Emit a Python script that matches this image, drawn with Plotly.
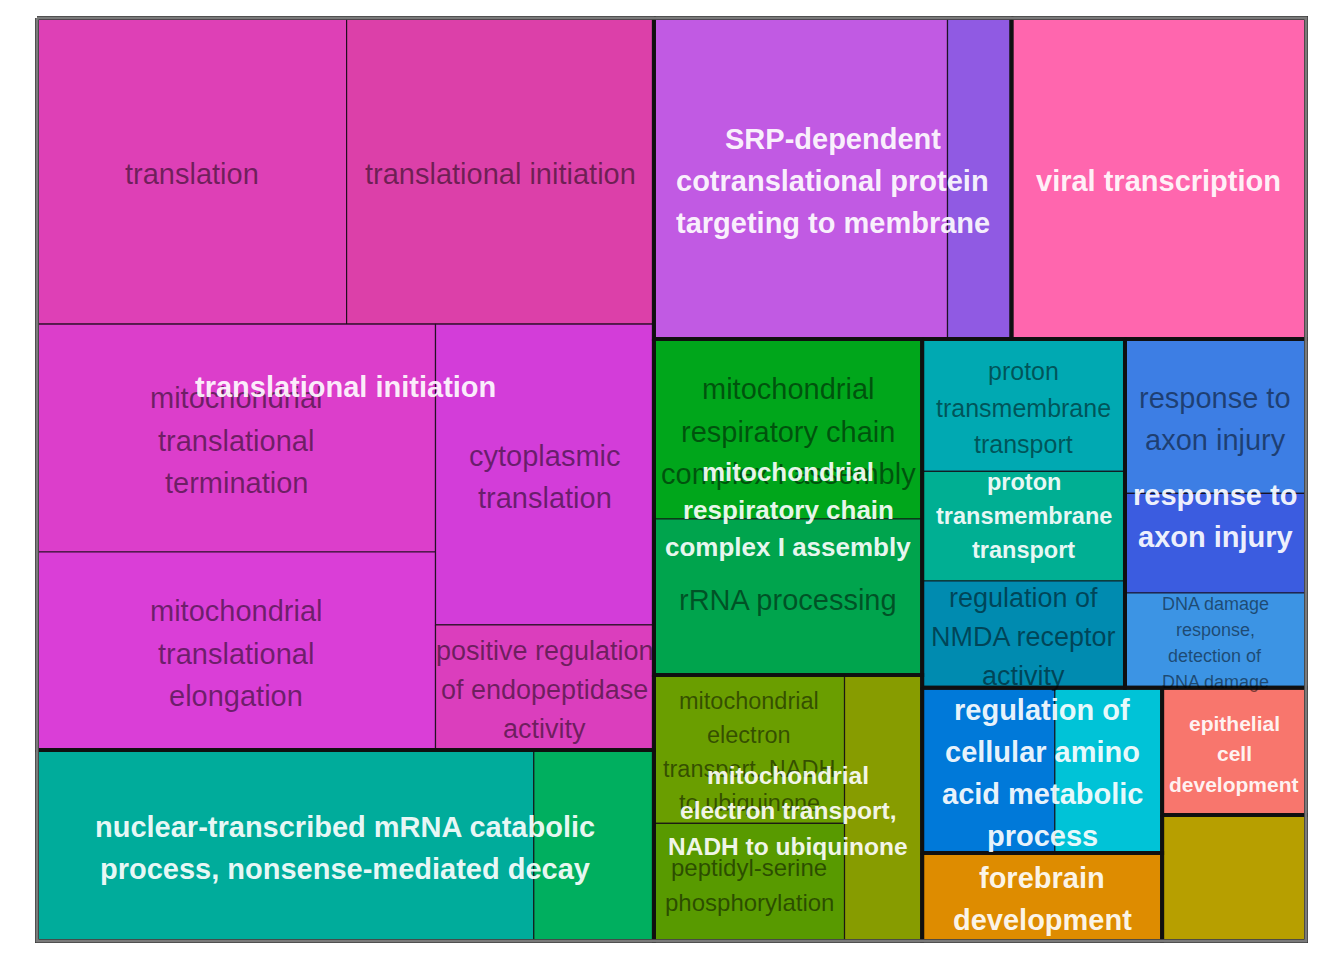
import plotly.graph_objects as go

# Parent terms, one thick-bordered block each (last one has no printed label)
GROUPS = [
    "translational initiation",
    "nuclear-transcribed mRNA catabolic process, nonsense-mediated decay",
    "SRP-dependent cotranslational protein targeting to membrane",
    "viral transcription",
    "mitochondrial respiratory chain complex I assembly",
    "mitochondrial electron transport, NADH to ubiquinone",
    "proton transmembrane transport",
    "response to axon injury",
    "regulation of cellular amino acid metabolic process",
    "forebrain development",
    "epithelial cell development",
    "",
]

# Terms ("" = cell whose label is not printed in the original)
TERMS = [
    "translation",
    "translational initiation",
    "mitochondrial translational termination",
    "mitochondrial translational elongation",
    "cytoplasmic translation",
    "positive regulation of endopeptidase activity",
    "nuclear-transcribed mRNA catabolic process, nonsense-mediated decay",
    "",
    "SRP-dependent cotranslational protein targeting to membrane",
    "",
    "viral transcription",
    "mitochondrial respiratory chain complex I assembly",
    "rRNA processing",
    "mitochondrial electron transport, NADH to ubiquinone",
    "peptidyl-serine phosphorylation",
    "",
    "proton transmembrane transport",
    "",
    "regulation of NMDA receptor activity",
    "response to axon injury",
    "",
    "DNA damage response, detection of DNA damage",
    "regulation of cellular amino acid metabolic process",
    "",
    "forebrain development",
    "epithelial cell development",
    "",
]
TERM_PARENT = [0, 0, 0, 0, 0, 0, 1, 1, 2, 2, 3, 4, 4, 5, 5, 5, 6, 6, 6,
               7, 7, 7, 8, 8, 9, 10, 11]
SCORES = [94.6, 93.9, 90.7, 78.8, 65.6, 27.3, 94.7, 22.9, 94.1, 20.5, 94.4,
          48.2, 41.8, 28.2, 22.4, 20.6, 26.8, 22.2, 21.6, 27.9, 18.0, 17.1,
          21.9, 17.7, 21.1, 18.3, 18.1]

# ---- styles ----
CELL_COLORS = [
    "#DE40B6", "#DC40A9", "#DC3ECB", "#DA3ED7", "#D33DD9", "#DB3EBD",
    "#00AC9B", "#00AF5F",
    "#C15AE3", "#905AE3",
    "#FF66AE",
    "#00A61B", "#00A44D",
    "#6A9E00", "#589A00", "#879C00",
    "#00A9B2", "#00AF93", "#008BB0",
    "#3D7EE4", "#3B5CE0", "#3C94E4",
    "#0079D9", "#00C3D7",
    "#DE8C00",
    "#F8766D",
    "#B79F00",
]

WRAP = {
    "mitochondrial translational termination": ["mitochondrial", "translational", "termination"],
    "mitochondrial translational elongation": ["mitochondrial", "translational", "elongation"],
    "cytoplasmic translation": ["cytoplasmic", "translation"],
    "positive regulation of endopeptidase activity": ["positive regulation", "of endopeptidase", "activity"],
    "nuclear-transcribed mRNA catabolic process, nonsense-mediated decay":
        ["nuclear-transcribed mRNA catabolic", "process, nonsense-mediated decay"],
    "SRP-dependent cotranslational protein targeting to membrane":
        ["SRP-dependent", "cotranslational protein", "targeting to membrane"],
    "mitochondrial respiratory chain complex I assembly":
        ["mitochondrial", "respiratory chain", "complex I assembly"],
    "proton transmembrane transport": ["proton", "transmembrane", "transport"],
    "regulation of NMDA receptor activity": ["regulation of", "NMDA receptor", "activity"],
    "response to axon injury": ["response to", "axon injury"],
    "DNA damage response, detection of DNA damage":
        ["DNA damage", "response,", "detection of", "DNA damage"],
    "regulation of cellular amino acid metabolic process":
        ["regulation of", "cellular amino", "acid metabolic", "process"],
    "forebrain development": ["forebrain", "development"],
    "epithelial cell development": ["epithelial", "cell", "development"],
}
WRAP_CELL = {
    "mitochondrial electron transport, NADH to ubiquinone":
        ["mitochondrial", "electron", "transport, NADH", "to ubiquinone"],
    "peptidyl-serine phosphorylation": ["peptidyl-serine", "phosphorylation"],
}
WRAP_GROUP = {
    "mitochondrial electron transport, NADH to ubiquinone":
        ["mitochondrial", "electron transport,", "NADH to ubiquinone"],
}

CELL_FONT = {
    "positive regulation of endopeptidase activity": 27,
    "proton transmembrane transport": 25,
    "regulation of NMDA receptor activity": 27,
    "DNA damage response, detection of DNA damage": 18,
    "mitochondrial electron transport, NADH to ubiquinone": 23.5,
    "peptidyl-serine phosphorylation": 24,
}
GROUP_FONT = {
    "mitochondrial respiratory chain complex I assembly": 26,
    "proton transmembrane transport": 23.5,
    "mitochondrial electron transport, NADH to ubiquinone": 24.5,
    "epithelial cell development": 21,
}
BASE_FONT = 29
LINE_GAP = 1.45
TEXT_DROP = 2.5       # px, text sits a little below the box centre
FONT = "Liberation Sans, Arial, sans-serif"
OVERLAP_LIMIT = 0.5   # a term label is dropped when its parent label covers more than this

# canvas (px) of the treemap area; page body adds 8px
W, H = 1269, 923
PAD = 2
LEFT, TOP = 37 - 8, 18 - 8


def _pivot(items, x, y, w, h, out):
    # ordered treemap, pivot-by-size
    if not items:
        return
    if len(items) == 1:
        out[items[0][0]] = (x, y, w, h)
        return
    total = sum(v for _, v in items)
    pk, pv = items[0]
    rest = items[1:]
    wide = w >= h
    best_k, best_r = 0, None
    for k in range(len(rest) + 1):
        a = pv + sum(v for _, v in rest[:k])
        if wide:
            side, other = w * a / total, h * pv / a
        else:
            side, other = h * a / total, w * pv / a
        r = max(side / other, other / side)
        if best_r is None or r < best_r:
            best_k, best_r = k, r
    a = pv + sum(v for _, v in rest[:best_k])
    l2, l3 = rest[:best_k], rest[best_k:]
    if wide:
        cw, ph = w * a / total, h * pv / a
        out[pk] = (x, y, cw, ph)
        _pivot(l2, x, y + ph, cw, h - ph, out)
        _pivot(l3, x + cw, y, w - cw, h, out)
    else:
        rh, pw = h * a / total, w * pv / a
        out[pk] = (x, y, pw, rh)
        _pivot(l2, x + pw, y, w - pw, rh, out)
        _pivot(l3, x, y + rh, w, h - rh, out)


def pivot_by_size(pairs, x, y, w, h):
    out = {}
    _pivot(sorted(pairs, key=lambda kv: -kv[1]), x, y, w, h, out)
    return out


def rect_path(r):
    x, y, w, h = r
    return [x, x + w, x + w, x, x], [y, y, y + h, y + h, y]


def text_width(s, size, bold):
    # rough Arial advance widths
    em = 0.0
    for ch in s:
        if ch in "iljtfr ,.-I'":
            em += 0.28
        elif ch in "mwMW":
            em += 0.85
        elif ch.isupper():
            em += 0.72
        else:
            em += 0.55
    return em * size * (1.08 if bold else 1.0)


def label_box(rect, lines, size, bold):
    x, y, w, h = rect
    bw = max(text_width(s, size, bold) for s in lines)
    bh = len(lines) * LINE_GAP * size
    cx, cy = x + w / 2, y + h / 2
    return (cx - bw / 2, cy - bh / 2, cx + bw / 2, cy + bh / 2)


def covered_share(a, b):
    ix = max(0.0, min(a[2], b[2]) - max(a[0], b[0]))
    iy = max(0.0, min(a[3], b[3]) - max(a[1], b[1]))
    return ix * iy / ((a[2] - a[0]) * (a[3] - a[1]))


def label_annotations(rect, size, lines, color, bold):
    x, y, w, h = rect
    n = len(lines)
    anns = []
    for i, line in enumerate(lines):
        anns.append(dict(
            x=x + w / 2, y=y + h / 2, text=line, showarrow=False,
            xanchor="center", yanchor="middle",
            yshift=((n - 1) / 2 - i) * LINE_GAP * size - TEXT_DROP,
            font=dict(family=FONT, size=size, color=color,
                      weight="bold" if bold else "normal"),
        ))
    return anns


# group totals and layout
group_sizes = [0.0] * len(GROUPS)
for p, s in zip(TERM_PARENT, SCORES):
    group_sizes[p] += s
group_rects = pivot_by_size(list(enumerate(group_sizes)), 0, 0, W, H)

cell_rects = {}
for g in range(len(GROUPS)):
    members = [(i, SCORES[i]) for i in range(len(TERMS)) if TERM_PARENT[i] == g]
    cell_rects.update(pivot_by_size(members, *group_rects[g]))

fig = go.Figure()

for i, term in enumerate(TERMS):
    xs, ys = rect_path(cell_rects[i])
    fig.add_trace(go.Scatter(
        x=xs, y=ys, mode="lines", fill="toself", fillcolor=CELL_COLORS[i],
        line=dict(color="rgba(20,10,20,0.85)", width=1.2),
        hoveron="fills", hoverinfo="text",
        text=f"{term or GROUPS[TERM_PARENT[i]]}<br>score: {SCORES[i]}",
        showlegend=False,
    ))

for g in range(len(GROUPS)):
    xs, ys = rect_path(group_rects[g])
    fig.add_trace(go.Scatter(
        x=xs, y=ys, mode="lines", line=dict(color="rgba(15,15,15,0.9)", width=4),
        hoverinfo="skip", showlegend=False,
    ))

xs, ys = rect_path((0, 0, W, H))
fig.add_trace(go.Scatter(x=xs, y=ys, mode="lines", line=dict(color="#7a7a7a", width=3),
                         hoverinfo="skip", showlegend=False))

# parent label boxes (white, bold)
group_lines, group_boxes = {}, {}
for g, name in enumerate(GROUPS):
    if not name:
        continue
    lines = WRAP_GROUP.get(name, WRAP.get(name, [name]))
    size = GROUP_FONT.get(name, BASE_FONT)
    group_lines[g] = (lines, size)
    group_boxes[g] = label_box(group_rects[g], lines, size, True)

annotations = []
# term labels (dark), dropped where the parent label covers most of them
for i, term in enumerate(TERMS):
    if not term:
        continue
    g = TERM_PARENT[i]
    lines = WRAP_CELL.get(term, WRAP.get(term, [term]))
    size = CELL_FONT.get(term, BASE_FONT)
    box = label_box(cell_rects[i], lines, size, False)
    if g in group_boxes and covered_share(box, group_boxes[g]) > OVERLAP_LIMIT:
        continue
    annotations += label_annotations(cell_rects[i], size, lines, "rgba(0,0,0,0.5)", False)

for g, (lines, size) in group_lines.items():
    annotations += label_annotations(group_rects[g], size, lines, "rgba(255,255,255,0.92)", True)

plot_w, plot_h = W + 2 * PAD, H + 2 * PAD
fig.update_layout(
    width=1344, height=960,
    margin=dict(l=LEFT - PAD, r=1344 - (LEFT - PAD) - plot_w,
                t=TOP - PAD, b=960 - (TOP - PAD) - plot_h),
    paper_bgcolor="white", plot_bgcolor="white",
    xaxis=dict(range=[-PAD, W + PAD], visible=False, fixedrange=True),
    yaxis=dict(range=[H + PAD, -PAD], visible=False, fixedrange=True),
    annotations=annotations,
    hovermode="closest",
)

fig.write_html("out.html")
